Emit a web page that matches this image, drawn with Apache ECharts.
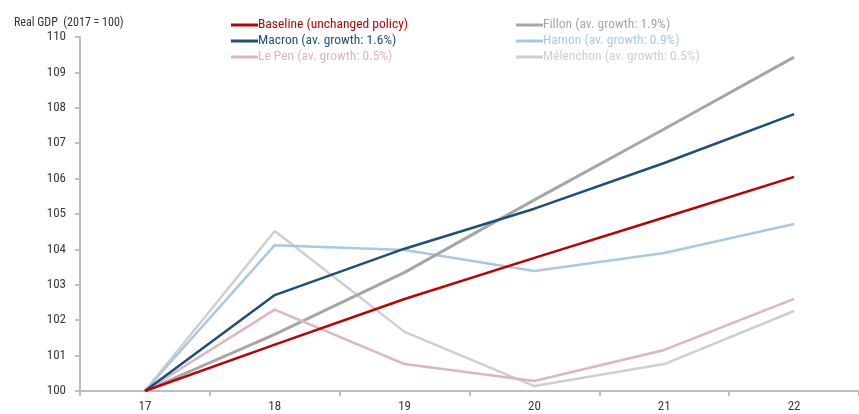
<!DOCTYPE html>
<html><head><meta charset="utf-8">
<script src="https://cdn.jsdelivr.net/npm/echarts@6/dist/echarts.min.js"></script>
<style>html,body{margin:0;padding:0;background:#fff}#c{width:859px;height:414px}</style>
</head><body><div id="c"></div>
<script>
const categories = ['17','18','19','20','21','22'];
const baseline  = [100, 101.31, 102.6, 103.76, 104.9, 106.05];
const macron    = [100, 102.71, 104.02, 105.15, 106.44, 107.82];
const fillon    = [100, 101.6, 103.35, 105.4, 107.4, 109.43];
const hamon     = [100, 104.12, 103.98, 103.39, 103.9, 104.72];
const lepen     = [100, 102.3, 100.76, 100.28, 101.16, 102.6];
const melenchon = [100, 104.52, 101.67, 100.14, 100.76, 102.26];
const seriesNames = ['Baseline (unchanged policy)','Macron (av. growth: 1.6%)','Le Pen (av. growth: 0.5%)',
  'Fillon (av. growth: 1.9%)','Hamon (av. growth: 0.9%)','Mélenchon (av. growth: 0.5%)'];
const yTicks = [100,101,102,103,104,105,106,107,108,109,110];

const colors = ['#c00000','#1f4e79','#dbb4c6','#a6a6a6','#a9c9e2','#cfcfcf'];
const dataArr = [baseline, macron, lepen, fillon, hamon, melenchon];
const font = '"Liberation Sans Narrow", "Roboto Condensed", "Liberation Sans", sans-serif';

const chart = echarts.init(document.getElementById('c'), null, {renderer:'canvas'});
const legendItem = i => ({name: seriesNames[i], textStyle:{color: colors[i]}});
const legendCommon = {
  orient:'vertical', top:13, itemGap:2, itemWidth:27, itemHeight:3, icon:'rect',
  textStyle:{fontFamily:font, fontSize:13.5, padding:[0,0,0,-5]}
};
chart.setOption({
  animation:false,
  title:{text:'Real GDP  (2017 = 100)', left:9, top:12,
    textStyle:{fontFamily:font, fontSize:12, fontWeight:'normal', color:'#333'}},
  legend:[
    Object.assign({left:226, data:[0,1,2].map(legendItem)}, legendCommon),
    Object.assign({left:511, data:[3,4,5].map(legendItem)}, legendCommon)
  ],
  grid:{left:80, right:-7, top:37, bottom:23},
  xAxis:{type:'category', data:categories, boundaryGap:true,
    axisLine:{lineStyle:{color:'#bdbdbd', width:2}},
    axisTick:{show:true, length:5, lineStyle:{color:'#bdbdbd', width:2}},
    axisLabel:{fontFamily:font, fontSize:13, color:'#3a3a3a', margin:9}},
  yAxis:{type:'value', min:yTicks[0], max:yTicks[yTicks.length-1], interval:1,
    axisLine:{show:true, lineStyle:{color:'#bdbdbd', width:2}},
    axisTick:{show:true, length:5, lineStyle:{color:'#bdbdbd', width:2}},
    splitLine:{show:false},
    axisLabel:{fontFamily:font, fontSize:13, color:'#3a3a3a', margin:14}},
  series: dataArr.map((d,i)=>({
    name: seriesNames[i], type:'line', data:d, symbol:'none', color: colors[i],
    lineStyle:{width:i===3?3:2.5, color: colors[i]}, z: 10-i
  }))
});
</script></body></html>
